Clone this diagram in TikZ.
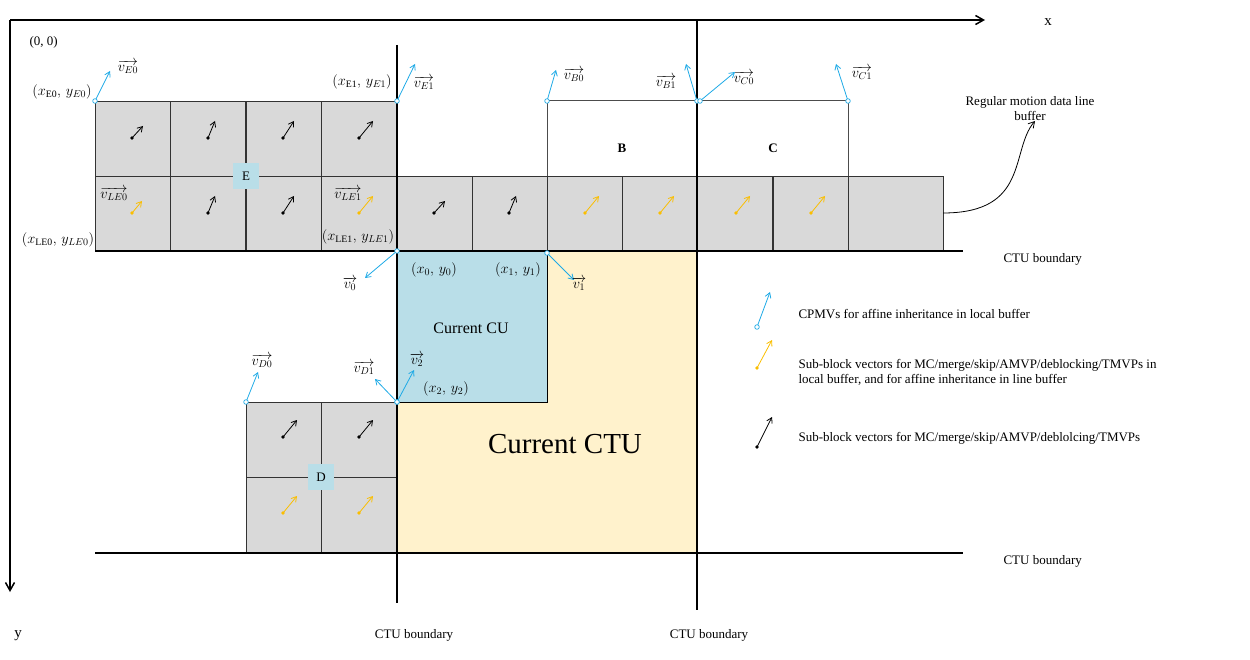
\documentclass[tikz,border=0pt]{standalone}
\usepackage{fontspec}
\setmainfont{Liberation Serif}
\usetikzlibrary{arrows.meta}
\definecolor{cblue}{RGB}{30,170,230}
\definecolor{cyel}{RGB}{250,190,0}
\definecolor{cu}{RGB}{185,222,232}
\definecolor{ctu}{RGB}{255,242,204}
\begin{document}
\begin{tikzpicture}[x=1pt,y=-1pt,font=\fontsize{13}{15}\selectfont,
 cell/.style={draw=black!80,fill=black!15,line width=0.8pt},
 bv/.style={draw=cblue,line width=0.8pt,-{Straight Barb[length=5pt,width=6pt]}},
 yv/.style={draw=cyel,line width=0.8pt,-{Straight Barb[length=5pt,width=6pt]}},
 kv/.style={draw=black,line width=0.8pt,-{Straight Barb[length=5pt,width=6pt]}},
 bc/.style={draw=cblue,fill=white,line width=0.7pt},
 thick line/.style={line width=2pt},
 lbl/.style={inner sep=0pt,font=\fontsize{14}{16}\selectfont}]
\useasboundingbox (0,0) rectangle (1250,660);
% regions
\fill[ctu] (397,251) rectangle (697,553);
\fill[cu] (397,251) rectangle (547,402);
\draw[line width=1pt] (397,402) -- (547,402) -- (547,251);
% E cells
\foreach \x in {95,170,246,321} {
 \draw[cell] (\x,101) rectangle ++(75.5,75);
 \draw[cell] (\x,176) rectangle ++(75.5,75);}
\foreach \x in {397,472,547,622,697,773} \draw[cell] (\x,176) rectangle ++(75.5,75);
\draw[cell] (848,176) rectangle (943,251);
% B C
\draw[black!70,line width=1pt] (547,176) -- (547,101) -- (848,101) -- (848,176);
\node (B) at (622,148) {\textbf{B}};
\node (C) at (773,148) {\textbf{C}};
% D cells
\foreach \x in {246,321} {\draw[cell] (\x,402) rectangle ++(75.5,75); \draw[cell] (\x,477) rectangle ++(75.5,76);}
\node[fill=cu,minimum size=26pt,inner sep=0] (E) at (246,176) {E};
\node[fill=cu,minimum size=26pt,inner sep=0] (D) at (321,477) {D};
% CTU boundaries
\draw[thick line] (95,251) -- (963,251);
\draw[thick line] (95,553) -- (963,553);
\draw[thick line] (397,45) -- (397,603);
\draw[thick line] (697,20) -- (697,610);
% axes
\draw[line width=1.5pt,-{Straight Barb[length=8pt,width=9pt]}] (10,20) -- (985,20);
\draw[line width=1.5pt,-{Straight Barb[length=8pt,width=9pt]}] (10,20) -- (10,592);
\node (X) at (1048,22) {\fontsize{15}{17}\selectfont x};
\node (Y) at (18,636) {\fontsize{15}{17}\selectfont y};
\node[anchor=west] (O) at (26,42) {(0, 0)};
% cell vectors
\foreach \cx/\cy/\dx/\dy in {132/138/11/-12,208/138/7/-17,283/138/11/-17,359/138/14/-17,
 208/213/7/-17,283/213/11/-17,434/213/11/-12,509/213/7/-17,283/437/14/-17,359/437/14/-17} {
 \fill (\cx,\cy) circle (1.9pt);
 \draw[kv] (\cx,\cy) -- ++(\dx,\dy);}
\foreach \cx/\cy/\dx/\dy in {132/213/10/-12,359/213/14/-17,585/213/14/-17,660/213/14/-17,736/213/14/-17,811/213/14/-17,283/513/14/-17,359/513/14/-17} {
 \fill[cyel] (\cx,\cy) circle (1.9pt);
 \draw[yv] (\cx,\cy) -- ++(\dx,\dy);}
% CPMVs
\foreach \px/\py/\qx/\qy in {95/101/110/71,397/101/415/64,547/101/556/70,697/101/686/64,700/101/735/72,848/101/836/64,397/251/365/278,547/253/574/280,397/402/375/379,397/402/414/370,246/402/258/372}{
 \draw[bv] (\px,\py) -- (\qx,\qy);
 \draw[bc] (\px,\py) circle (2.3pt);}
% labels
\node[lbl] at (128,67) {$\overrightarrow{v_{E0}}$};
\node[lbl] at (424,83) {$\overrightarrow{v_{E1}}$};
\node[lbl] at (574,75) {$\overrightarrow{v_{B0}}$};
\node[lbl] at (666,82) {$\overrightarrow{v_{B1}}$};
\node[lbl] at (744,78) {$\overrightarrow{v_{C0}}$};
\node[lbl] at (862,73) {$\overrightarrow{v_{C1}}$};
\node[lbl] at (114,194) {$\overrightarrow{v_{LE0}}$};
\node[lbl] at (348,194) {$\overrightarrow{v_{LE1}}$};
\node[lbl] at (350,284) {$\overrightarrow{v_{0}}$};
\node[lbl] at (579,284) {$\overrightarrow{v_{1}}$};
\node[lbl] at (262,361) {$\overrightarrow{v_{D0}}$};
\node[lbl] at (364,368) {$\overrightarrow{v_{D1}}$};
\node[lbl] at (417,360) {$\overrightarrow{v_{2}}$};
\node[lbl] at (62,92) {$(x_{\mathrm{E0}},\,y_{E0})$};
\node[lbl] at (362,82) {$(x_{\mathrm{E1}},\,y_{E1})$};
\node[lbl] at (58,240) {$(x_{\mathrm{LE0}},\,y_{LE0})$};
\node[lbl] at (358,237) {$(x_{\mathrm{LE1}},\,y_{LE1})$};
\node[lbl] at (434,270) {$(x_{0},\,y_{0})$};
\node[lbl] at (518,270) {$(x_{1},\,y_{1})$};
\node[lbl] at (446,389) {$(x_{2},\,y_{2})$};
\node (CU) at (471,328) {\fontsize{16}{18}\selectfont Current CU};
\node (CTU) at (565,444) {\fontsize{29}{32}\selectfont Current CTU};
\node[anchor=west] at (1000,259) {CTU boundary};
\node[anchor=west] at (1000,561) {CTU boundary};
\node at (414,635) {CTU boundary};
\node at (709,635) {CTU boundary};
% line buffer
\node[align=center] (LB) at (1030,109) {Regular motion data line\\buffer};
\coordinate (lbs) at (943,213);
\draw[line width=0.8pt,-{Straight Barb[length=6pt,width=7pt]}] (lbs) .. controls (1030,213) and (1010,150) .. (1035,121);
% legend
\draw[bv] (757,327) -- (770,292);
\draw[bc] (757,327) circle (2.3pt);
\draw[yv] (757,368) -- (772,340);
\fill[cyel] (757,368) circle (1.9pt);
\draw[kv] (757,447) -- (772,417);
\fill (757,447) circle (1.9pt);
\node[anchor=west] at (795,314) {CPMVs for affine inheritance in local buffer};
\node[anchor=west,align=left] at (795,372) {Sub-block vectors for MC/merge/skip/AMVP/deblocking/TMVPs in\\local buffer, and for affine inheritance in line buffer};
\node[anchor=west] at (795,438) {Sub-block vectors for MC/merge/skip/AMVP/deblolcing/TMVPs};
\end{tikzpicture}
\end{document}
